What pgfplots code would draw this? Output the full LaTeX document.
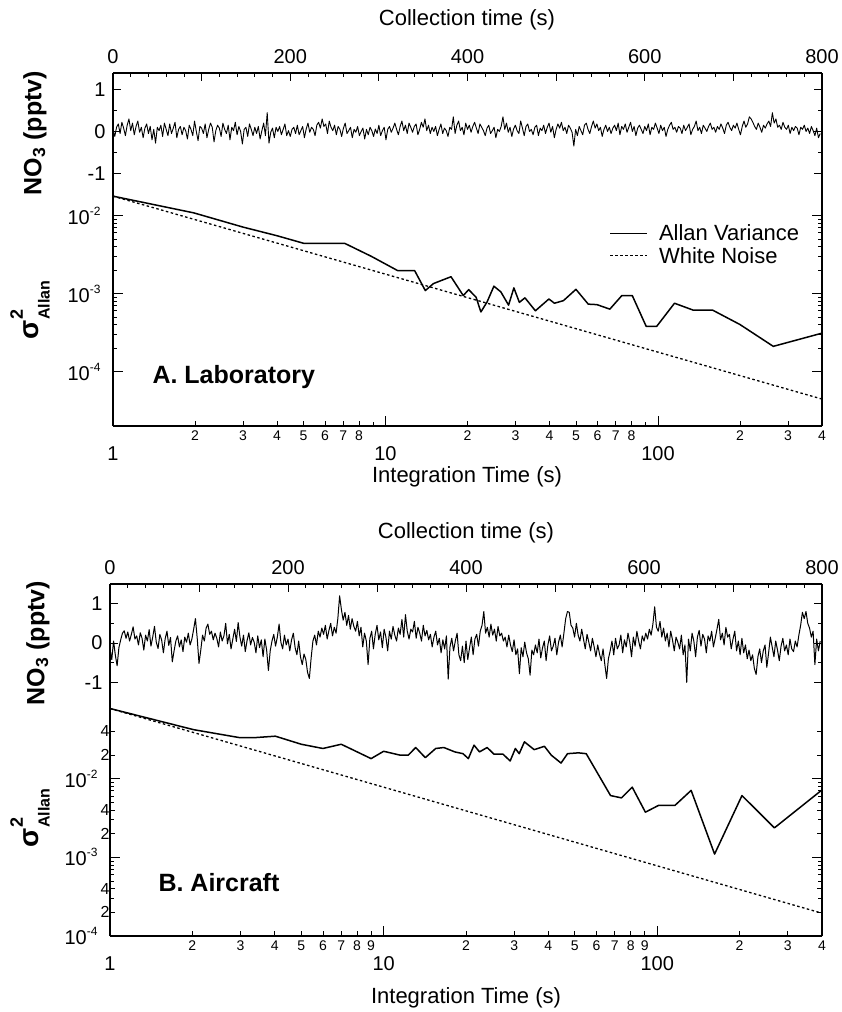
\documentclass[border=0pt]{standalone}
\usepackage{fontspec}
\setmainfont{Liberation Sans}
\usepackage{pgfplots}
\pgfplotsset{compat=1.18}
\newcommand\fsz[1]{\fontsize{#1}{#1}\selectfont}
\newcommand\tp[1]{10\raisebox{0.45em}{\fsz{12}#1}}
\pgfplotsset{
  base/.style={scale only axis, axis line style={line width=1.6pt},
    tick style={line width=0.8pt, black}, major tick length=8pt, minor tick length=4pt,
    tick label style={font=\fsz{20}}},
  tsaxis/.style={base, xmin=0, xmax=800, axis x line*=top,
    xtick={0,100,...,800}, xticklabels={0,,200,,400,,600,,800}, minor x tick num=4,
    ytick={-1,0,1}, yticklabels={-1,0,1}, minor y tick num=1,
    xticklabel style={yshift=6pt}, yticklabel style={xshift=-4pt}},
  avaxis/.style={base, xmin=1, xmax=400, axis x line*=bottom,
    xtick={1,10,100}, xticklabels={1,10,100}, major tick length=10pt,
    ytick={1e-4,1e-3,1e-2}, yticklabels={\tp{-4},\tp{-3},\tp{-2}},
    xticklabel style={yshift=-17pt}, yticklabel style={xshift=-9pt},
    extra x tick style={major tick length=5pt, xticklabel style={yshift=16pt, font=\fsz{14}}}},
  allan/.style={black, line width=1.5pt, line join=round},
  wnoise/.style={black, line width=1.3pt, dash pattern=on 2.5pt off 2.5pt},
  tsline/.style={black, line width=1pt, line join=round},
}
\begin{document}
\begin{tikzpicture}
\useasboundingbox (0,0) rectangle (841pt,-1012pt);

% ---------- A. Laboratory: time series ----------
\begin{axis}[tsaxis, at={(113pt,-192pt)}, anchor=south west, width=709pt, height=119pt,
  ymin=-1.45, ymax=1.4]
\addplot[tsline, line width=0.9pt] coordinates {
(0,0.05)(2,-0.12)(4,0.10)(6,0.18)(8,-0.05)(10,0.22)(12,0.08)(14,-0.10)(16,0.15)(18,0.30)(20,0.02)(22,0.20)(24,-0.08)(26,0.12)(28,0.25)(30,-0.02)(32,0.10)(34,-0.15)(36,0.08)(38,0.18)
(40,-0.05)(42,0.12)(44,-0.20)(46,0.05)(48,-0.28)(50,0.10)(52,0.02)(54,0.15)(56,-0.12)(58,0.20)(60,0.05)(62,-0.10)(64,0.18)(66,-0.05)(68,0.08)(70,0.22)(72,-0.15)(74,0.05)(76,0.12)(78,-0.08)
(80,0.10)(82,0.02)(84,-0.18)(86,0.15)(88,0.05)(90,-0.10)(92,0.25)(94,0.00)(96,-0.22)(98,0.12)(100,0.08)(102,-0.05)(104,0.18)(106,-0.15)(108,0.05)(110,0.20)(112,0.10)(114,-0.25)(116,0.02)(118,0.15)
(120,0.08)(122,-0.12)(124,0.20)(126,0.05)(128,-0.05)(130,0.15)(132,-0.20)(134,0.10)(136,0.02)(138,0.22)(140,-0.08)(142,0.12)(144,0.00)(146,-0.30)(148,0.05)(150,0.10)(152,-0.12)(154,0.18)(156,0.05)(158,-0.10)
(160,0.10)(162,-0.05)(164,0.12)(166,-0.18)(168,0.02)(170,0.20)(172,-0.10)(174,0.45)(176,-0.28)(178,-0.02)(180,0.08)(182,-0.15)(184,0.10)(186,0.00)(188,0.12)(190,-0.08)(192,0.05)(194,0.18)(196,-0.10)(198,0.02)
(200,-0.12)(202,0.05)(204,0.10)(206,-0.05)(208,0.15)(210,-0.08)(212,0.02)(214,0.12)(216,-0.15)(218,0.06)(220,0.20)(222,-0.02)(224,0.10)(226,0.05)(228,-0.10)(230,0.15)(232,0.22)(234,0.08)(236,0.30)(238,0.12)
(240,0.18)(242,-0.05)(244,0.25)(246,0.10)(248,0.02)(250,0.15)(252,-0.08)(254,0.12)(256,0.05)(258,-0.12)(260,0.08)(262,0.20)(264,-0.05)(266,0.02)(268,0.10)(270,-0.15)(272,0.05)(274,-0.02)(276,0.12)(278,-0.10)
(280,0.00)(282,0.08)(284,-0.18)(286,0.05)(288,-0.08)(290,0.10)(292,0.02)(294,-0.12)(296,0.06)(298,-0.05)(300,0.15)(302,-0.10)(304,0.02)(306,0.10)(308,-0.20)(310,0.05)(312,0.12)(314,-0.02)(316,0.08)(318,0.20)
(320,0.05)(322,-0.08)(324,0.12)(326,0.25)(328,0.02)(330,0.15)(332,-0.05)(334,0.20)(336,0.10)(338,-0.02)(340,0.12)(342,0.18)(344,-0.08)(346,0.05)(348,0.22)(350,0.10)(352,0.30)(354,0.02)(356,0.15)(358,-0.05)
(360,0.10)(362,0.00)(364,0.12)(366,-0.10)(368,0.05)(370,0.18)(372,-0.05)(374,0.08)(376,0.02)(378,-0.12)(380,0.10)(382,0.05)(384,0.35)(386,-0.05)(388,0.15)(390,0.25)(392,0.02)(394,0.10)(396,-0.08)(398,0.20)
(400,0.05)(402,0.15)(404,-0.02)(406,0.12)(408,0.22)(410,0.08)(412,-0.05)(414,0.18)(416,0.10)(418,0.02)(420,-0.10)(422,0.08)(424,0.15)(426,-0.05)(428,0.02)(430,0.10)(432,-0.15)(434,0.05)(436,0.00)(438,0.12)
(440,0.35)(442,0.05)(444,0.20)(446,-0.02)(448,0.10)(450,-0.12)(452,0.06)(454,0.15)(456,0.02)(458,-0.05)(460,0.25)(462,0.08)(464,-0.10)(466,0.12)(468,0.18)(470,0.00)(472,0.05)(474,-0.08)(476,0.10)(478,0.15)
(480,-0.10)(482,0.08)(484,0.02)(486,0.15)(488,-0.05)(490,0.10)(492,0.20)(494,-0.02)(496,0.12)(498,-0.15)(500,0.05)(502,0.18)(504,0.08)(506,0.22)(508,0.02)(510,0.10)(512,-0.05)(514,0.15)(516,0.08)(518,-0.02)
(520,-0.35)(522,0.05)(524,-0.10)(526,0.12)(528,0.02)(530,-0.08)(532,0.15)(534,0.20)(536,0.05)(538,-0.05)(540,0.12)(542,0.25)(544,0.08)(546,0.18)(548,0.02)(550,0.10)(552,-0.12)(554,0.05)(556,0.15)(558,0.00)
(560,0.10)(562,-0.05)(564,0.08)(566,0.15)(568,0.02)(570,0.20)(572,-0.08)(574,0.12)(576,0.05)(578,0.18)(580,-0.02)(582,0.10)(584,0.22)(586,0.00)(588,0.12)(590,-0.10)(592,0.08)(594,0.15)(596,0.05)(598,-0.05)
(600,0.12)(602,0.02)(604,0.18)(606,-0.08)(608,0.10)(610,0.05)(612,0.20)(614,0.08)(616,-0.05)(618,0.15)(620,0.02)(622,0.10)(624,-0.12)(626,0.05)(628,0.15)(630,0.22)(632,0.05)(634,0.10)(636,-0.02)(638,0.12)
(640,0.08)(642,-0.05)(644,0.15)(646,0.02)(648,0.10)(650,0.18)(652,-0.08)(654,0.05)(656,0.12)(658,0.25)(660,0.02)(662,0.10)(664,-0.05)(666,0.15)(668,0.08)(670,0.00)(672,0.12)(674,0.20)(676,0.05)(678,0.10)
(680,-0.02)(682,0.12)(684,0.05)(686,0.18)(688,0.08)(690,-0.05)(692,0.15)(694,0.22)(696,0.10)(698,0.02)(700,0.15)(702,0.08)(704,0.20)(706,0.05)(708,-0.08)(710,0.12)(712,0.25)(714,0.10)(716,0.18)(718,0.35)
(720,0.30)(722,0.22)(724,0.12)(726,0.05)(728,0.20)(730,0.10)(732,-0.02)(734,0.15)(736,0.08)(738,0.18)(740,0.25)(742,0.12)(744,0.45)(746,0.20)(748,0.30)(750,0.10)(752,0.15)(754,0.05)(756,0.22)(758,0.10)
(760,0.05)(762,0.15)(764,-0.05)(766,0.10)(768,0.02)(770,0.12)(772,0.08)(774,-0.08)(776,0.10)(778,0.05)(780,0.15)(782,0.00)(784,0.08)(786,-0.05)(788,0.12)(790,0.02)(792,-0.10)(794,0.08)(796,-0.15)(798,-0.05)
};
\end{axis}

% ---------- A. Laboratory: Allan variance ----------
\begin{loglogaxis}[avaxis, at={(113pt,-426pt)}, anchor=south west, width=709pt, height=234pt,
  ymin=2e-5, ymax=2e-2,
  extra x ticks={2,3,4,5,6,7,8,20,30,40,50,60,70,80,200,300,400},
  extra x tick labels={2,3,4,5,6,7,8,2,3,4,5,6,7,8,2,3,4},
  legend style={draw=none, fill=none, at={(rel axis cs:0.70,0.87)}, anchor=north west,
    font=\fsz{22}, inner sep=0pt, row sep=1pt, column sep=9pt},
  legend cell align=left,
  legend image code/.code={\draw[#1] (0pt,0pt) -- (37pt,0pt);}]
\addplot[allan] coordinates {(1,0.0177)(1.98,0.0108)(3,0.0071)(4,0.0055)(5.03,0.00438)(5.9,0.0044)(7.08,0.0044)(8.88,0.00299)(11.1,0.00196)(12.8,0.00196)(14.0,0.00109)(15.0,0.00134)(17.4,0.00164)(19.3,0.00094)(20.2,0.00112)(21.5,0.000895)(22.4,0.00058)(23.6,0.00078)(25.0,0.00124)(26.5,0.00105)(28.3,0.00071)(29.6,0.00118)(31.0,0.00077)(32.5,0.00088)(35.5,0.0006)(39.8,0.00085)(41.7,0.00075)(45,0.00081)(50,0.00113)(55.5,0.00073)(59.7,0.00072)(66.6,0.00063)(73.7,0.00094)(80.5,0.00094)(90.5,0.00038)(99,0.00038)(115,0.00075)(135,0.00061)(159,0.00061)(200,0.0004)(265,0.00021)(400,0.00031)};
\addlegendentry{Allan Variance}
\addplot[wnoise] coordinates {(1,0.0177)(10,0.00177)(100,0.000177)(400,0.0000443)};
\addlegendentry{White Noise}
\end{loglogaxis}

% ---------- B. Aircraft: time series ----------
\begin{axis}[tsaxis, at={(110pt,-700pt)}, anchor=south west, width=712pt, height=116pt,
  ymin=-1.45, ymax=1.5]
\addplot[tsline] coordinates {
(0,-0.15)(2,-0.42)(4,0.05)(6,-0.31)(8,-0.58)(10,-0.12)(12,0.08)(14,0.25)(16,0.31)(18,0.12)(20,0.28)(22,0.05)(24,0.22)(26,0.41)(28,0.10)(30,0.18)(32,-0.05)(34,0.26)(36,0.12)(38,-0.18)
(40,0.20)(42,0.05)(44,0.34)(46,-0.08)(48,0.15)(50,0.42)(52,0.02)(54,-0.14)(56,0.22)(58,0.08)(60,-0.25)(62,0.11)(64,0.30)(66,-0.06)(68,0.14)(70,-0.48)(72,-0.20)(74,0.05)(76,0.18)(78,-0.10)
(80,0.08)(82,-0.22)(84,0.15)(86,0.02)(88,0.25)(90,-0.05)(92,0.10)(94,0.35)(96,0.62)(98,0.12)(100,-0.52)(102,-0.18)(104,0.20)(106,0.05)(108,0.38)(110,0.48)(112,0.22)(114,0.30)(116,0.08)(118,0.25)
(120,0.12)(122,-0.10)(124,0.28)(126,0.05)(128,0.18)(130,0.50)(132,-0.02)(134,0.22)(136,-0.15)(138,0.10)(140,0.35)(142,0.04)(144,0.52)(146,0.15)(148,-0.08)(150,0.20)(152,-0.22)(154,0.06)(156,0.26)(158,-0.05)
(160,0.14)(162,0.02)(164,-0.25)(166,0.18)(168,-0.12)(170,0.08)(172,-0.35)(174,0.10)(176,-0.18)(178,-0.70)(180,-0.20)(182,0.05)(184,0.22)(186,-0.08)(188,0.15)(190,0.48)(192,0.02)(194,-0.15)(196,0.20)(198,-0.05)
(200,0.10)(202,-0.20)(204,0.08)(206,0.25)(208,-0.12)(210,-0.30)(212,0.05)(214,-0.35)(216,-0.55)(218,-0.28)(220,-0.42)(222,-0.75)(224,-0.90)(226,-0.38)(228,0.05)(230,0.20)(232,-0.05)(234,0.30)(236,0.15)(238,0.38)
(240,0.22)(242,0.45)(244,0.10)(246,0.32)(248,0.50)(250,0.18)(252,0.40)(254,0.25)(256,0.62)(258,1.20)(260,0.85)(262,0.58)(264,0.78)(266,0.45)(268,0.70)(270,0.35)(272,0.62)(274,0.42)(276,0.30)(278,0.55)
(280,0.18)(282,0.40)(284,-0.10)(286,0.25)(288,0.05)(290,-0.55)(292,0.12)(294,0.30)(296,-0.15)(298,0.22)(300,0.45)(302,0.08)(304,0.28)(306,-0.12)(308,0.35)(310,0.15)(312,-0.20)(314,0.30)(316,0.10)(318,0.42)
(320,0.20)(322,0.05)(324,0.38)(326,0.22)(328,0.60)(330,0.15)(332,0.72)(334,0.30)(336,0.10)(338,0.35)(340,0.28)(342,0.55)(344,0.12)(346,0.40)(348,0.25)(350,0.05)(352,0.45)(354,0.18)(356,0.32)(358,0.08)
(360,0.22)(362,-0.10)(364,0.15)(366,0.30)(368,-0.05)(370,0.12)(372,-0.25)(374,0.08)(376,-0.15)(378,0.18)(380,-0.92)(382,-0.10)(384,0.12)(386,-0.20)(388,0.05)(390,0.25)(392,-0.30)(394,-0.45)(396,-0.08)(398,-0.50)
(400,0.05)(402,-0.42)(404,-0.12)(406,0.15)(408,-0.30)(410,0.10)(412,0.22)(414,-0.08)(416,0.30)(418,0.45)(420,0.80)(422,0.25)(424,0.40)(426,0.15)(428,0.48)(430,0.20)(432,0.35)(434,0.05)(436,0.42)(438,0.18)
(440,0.25)(442,0.05)(444,0.15)(446,-0.10)(448,0.20)(450,-0.05)(452,-0.22)(454,0.08)(456,-0.30)(458,-0.15)(460,-0.78)(462,-0.12)(464,-0.35)(466,0.02)(468,-0.25)(470,-0.40)(472,-0.82)(474,-0.18)(476,-0.30)(478,-0.05)
(480,-0.25)(482,0.10)(484,-0.38)(486,-0.12)(488,0.05)(490,-0.45)(492,-0.05)(494,0.18)(496,-0.20)(498,-0.08)(500,0.12)(502,-0.30)(504,0.02)(506,0.20)(508,-0.10)(510,0.25)(512,0.62)(514,0.80)(516,0.78)(518,0.45)
(520,0.38)(522,0.15)(524,0.50)(526,0.20)(528,0.05)(530,0.35)(532,0.10)(534,-0.15)(536,0.22)(538,0.02)(540,-0.20)(542,0.12)(544,-0.10)(546,-0.35)(548,-0.05)(550,-0.28)(552,-0.45)(554,-0.15)(556,-0.55)(558,-0.90)
(560,-0.40)(562,-0.20)(564,0.05)(566,-0.30)(568,0.12)(570,-0.15)(572,-0.05)(574,0.20)(576,-0.25)(578,0.08)(580,-0.10)(582,0.25)(584,0.02)(586,-0.35)(588,0.15)(590,-0.08)(592,0.30)(594,0.05)(596,-0.15)(598,0.18)
(600,0.05)(602,0.25)(604,0.10)(606,0.35)(608,0.20)(610,0.48)(612,0.92)(614,0.40)(616,0.30)(618,0.55)(620,0.15)(622,0.38)(624,0.05)(626,0.25)(628,-0.10)(630,0.30)(632,0.08)(634,-0.20)(636,0.15)(638,0.02)
(640,-0.15)(642,0.20)(644,-0.30)(646,-0.05)(648,-1.00)(650,0.10)(652,-0.20)(654,0.25)(656,0.05)(658,-0.35)(660,0.15)(662,0.32)(664,-0.08)(666,0.22)(668,0.10)(670,-0.25)(672,0.18)(674,0.05)(676,0.30)(678,-0.10)
(680,0.12)(682,0.35)(684,0.60)(686,0.08)(688,0.25)(690,-0.05)(692,0.40)(694,0.15)(696,0.22)(698,-0.15)(700,0.10)(702,0.30)(704,-0.20)(706,0.05)(708,-0.30)(710,0.12)(712,-0.25)(714,-0.05)(716,-0.40)(718,-0.18)
(720,-0.45)(722,-0.30)(724,-0.65)(726,-0.80)(728,-0.35)(730,-0.15)(732,-0.50)(734,-0.20)(736,-0.05)(738,-0.62)(740,-0.25)(742,0.15)(744,-0.10)(746,-0.35)(748,0.05)(750,-0.18)(752,-0.45)(754,-0.08)(756,0.12)(758,-0.20)
(760,-0.05)(762,-0.30)(764,0.10)(766,-0.15)(768,-0.22)(770,0.05)(772,-0.10)(774,0.20)(776,0.45)(778,0.78)(780,0.62)(782,0.80)(784,0.50)(786,0.38)(788,0.15)(790,0.30)(792,-0.55)(794,0.10)(796,-0.20)(798,0.05)
};
\end{axis}

% ---------- B. Aircraft: Allan variance ----------
\begin{loglogaxis}[avaxis, at={(110pt,-936pt)}, anchor=south west, width=712pt, height=236pt,
  ymin=1e-4, ymax=1e-1,
  extra x ticks={2,3,4,5,6,7,8,9,20,30,40,50,60,70,80,90,200,300,400},
  extra x tick labels={2,3,4,5,6,7,8,9,2,3,4,5,6,7,8,9,2,3,4},
  extra y ticks={2e-4,4e-4,2e-3,4e-3,2e-2,4e-2},
  extra y tick labels={2,4,2,4,2,4},
  extra y tick style={major tick length=5pt, yticklabel style={xshift=12pt, font=\fsz{16}}}]
\addplot[allan] coordinates {(1,0.078)(2.02,0.042)(2.97,0.0333)(3.4,0.0333)(4.02,0.0347)(5.0,0.0274)(6.0,0.0242)(7.0,0.0274)(9.0,0.018)(10.0,0.0223)(11.5,0.0199)(12.3,0.0199)(13.1,0.0249)(14.2,0.0185)(15.5,0.0242)(16.6,0.0249)(18.2,0.0219)(19.5,0.0208)(20.4,0.018)(21.4,0.0267)(22.4,0.0219)(23.9,0.0249)(25.3,0.0205)(27.3,0.0205)(29.0,0.0168)(30.3,0.0242)(31.3,0.0208)(32.7,0.0294)(35.5,0.0234)(38.7,0.0258)(41.0,0.0199)(44.5,0.0158)(47.0,0.0208)(51.5,0.0213)(55.0,0.0208)(67.5,0.0061)(74.0,0.0057)(81.0,0.0078)(90.5,0.00375)(101,0.00457)(116,0.00457)(133,0.0071)(162,0.0011)(204,0.0061)(268,0.00237)(400,0.0072)};
\addplot[wnoise] coordinates {(1,0.078)(10,0.0078)(100,0.00078)(400,0.000195)};
\end{loglogaxis}

% ---------- titles and labels ----------
\node[font=\fsz{22}] at (467pt,-20pt) {Collection time (s)};
\node[font=\fsz{22}] at (467pt,-477pt) {Integration Time (s)};
\node[font=\fsz{25}\bfseries, rotate=90] at (35pt,-133pt) {NO\textsubscript{3} (pptv)};
\node[font=\fsz{28}\bfseries, rotate=90] at (30pt,-310pt)
  {σ\makebox[0pt][l]{\raisebox{0.55em}{\fsz{18}\bfseries 2}}\raisebox{-0.4em}{\fsz{16}\bfseries Allan}};
\node[font=\fsz{25}\bfseries, anchor=west] at (149pt,-377pt) {A. Laboratory};

\node[font=\fsz{22}] at (466pt,-533pt) {Collection time (s)};
\node[font=\fsz{22}] at (466pt,-998pt) {Integration Time (s)};
\node[font=\fsz{25}\bfseries, rotate=90] at (38pt,-643pt) {NO\textsubscript{3} (pptv)};
\node[font=\fsz{28}\bfseries, rotate=90] at (30pt,-818pt)
  {σ\makebox[0pt][l]{\raisebox{0.55em}{\fsz{18}\bfseries 2}}\raisebox{-0.4em}{\fsz{16}\bfseries Allan}};
\node[font=\fsz{25}\bfseries, anchor=west] at (155pt,-883pt) {B. Aircraft};
\end{tikzpicture}
\end{document}
